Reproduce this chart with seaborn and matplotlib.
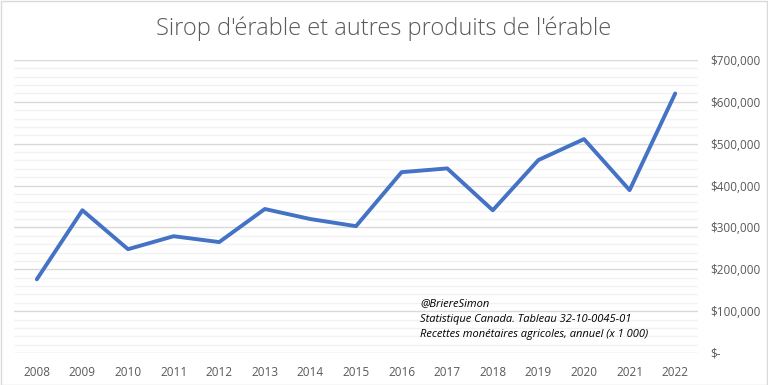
import matplotlib
matplotlib.use("Agg")
import matplotlib.pyplot as plt
import matplotlib.ticker as mticker
import seaborn as sns
import pandas as pd

sns.set_style("white")
plt.rcParams["font.family"] = ["Open Sans", "DejaVu Sans"]

years = [2008, 2009, 2010, 2011, 2012, 2013, 2014, 2015,
         2016, 2017, 2018, 2019, 2020, 2021, 2022]
recettes = [176000, 341000, 248000, 279000, 265000, 344000, 320000, 303000,
            432000, 441000, 341000, 461000, 511000, 389000, 620000]
source_lines = ["@BriereSimon",
                "Statistique Canada. Tableau 32-10-0045-01",
                "Recettes monétaires agricoles, annuel (x 1 000)"]

df = pd.DataFrame({"annee": years, "recettes": recettes})
df["pos"] = range(len(df))

fig = plt.figure(figsize=(7.68, 3.85), dpi=100)
ax = fig.add_axes([14 / 768, 32 / 385, 684 / 768, 293 / 385])

sns.lineplot(data=df, x="pos", y="recettes", ax=ax, color="#4472C4",
             linewidth=2.8, solid_joinstyle="round", solid_capstyle="round")

ax.set_xlim(-0.5, len(df) - 0.5)
ax.set_ylim(0, 700000)
ax.set_xticks(df["pos"])
ax.set_xticklabels(df["annee"])
ax.yaxis.tick_right()
ax.yaxis.set_major_locator(mticker.MultipleLocator(100000))
ax.yaxis.set_minor_locator(mticker.MultipleLocator(20000))


def dollars(v, _):
    return "$-" if v == 0 else f"${v:,.0f}"


ax.yaxis.set_major_formatter(mticker.FuncFormatter(dollars))
for lab in ax.get_yticklabels():
    lab.set_horizontalalignment("left")
ax.tick_params(axis="y", which="both", length=0, pad=9, labelsize=8.5,
               labelcolor="#595959")
ax.tick_params(axis="x", length=0, pad=9, labelsize=8.5, labelcolor="#595959")
ax.grid(axis="y", which="major", color="#D9D9D9", linewidth=1)
ax.grid(axis="y", which="minor", color="#F2F2F2", linewidth=1)
ax.set_axisbelow(True)
for s in ax.spines.values():
    s.set_visible(False)
ax.set_xlabel("")
ax.set_ylabel("")

fig.text(0.5, 0.925, "Sirop d'érable et autres produits de l'érable",
         ha="center", va="center", fontsize=17, color="#595959",
         fontweight="light")

for i, line in enumerate(source_lines):
    fig.text(420 / 768, 1 - (304 + 15.5 * i) / 385, line, ha="left",
             va="center", fontsize=8, style="italic", color="black")

fig.patches.append(plt.Rectangle((0.5 / 768, 0.5 / 385), 766.5 / 768, 383.5 / 385,
                                 transform=fig.transFigure, fill=False,
                                 edgecolor="#D9D9D9", linewidth=1))

fig.savefig("out.png", dpi=100)
